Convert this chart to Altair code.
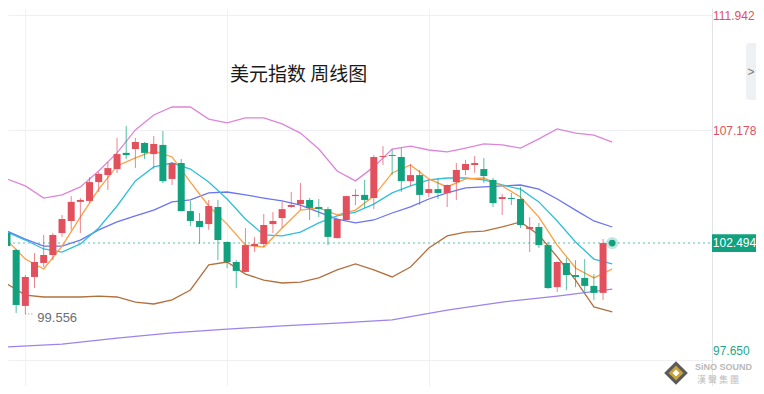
import altair as alt
import pandas as pd

# ---------------- data ----------------
title_text = "美元指数 周线图"

opens = [102.91, 102.21, 99.89, 101.09, 101.67, 102.00, 102.91, 103.41, 104.20, 104.24,
         105.02, 105.31, 105.56, 106.23, 106.39, 106.64, 106.18, 106.56, 105.15, 105.81,
         103.82, 103.41, 103.28, 103.99, 102.54, 101.71, 101.30, 102.37, 102.46, 103.28,
         103.53, 103.99, 104.11, 104.28, 103.99, 103.90, 102.70, 103.45, 104.44, 104.49,
         104.36, 106.06, 106.14, 106.06, 105.06, 105.31, 104.57, 104.73, 104.57, 105.02,
         105.52, 105.73, 105.56, 105.11, 104.32, 104.36, 104.32, 103.08, 103.16, 102.41,
         100.67, 101.67, 101.17, 101.05, 100.72, 100.43]
highs = [103.57, 102.25, 101.17, 102.08, 102.83, 102.91, 103.66, 104.44, 104.36, 105.23,
         105.44, 105.85, 106.85, 107.34, 106.85, 106.68, 106.93, 107.14, 105.85, 105.98,
         104.24, 103.74, 104.28, 104.28, 102.56, 101.79, 103.12, 102.75, 103.70, 103.78,
         104.20, 104.61, 104.98, 104.36, 104.32, 103.99, 103.52, 104.46, 104.73, 105.11,
         106.14, 106.51, 106.39, 106.43, 105.77, 105.52, 105.11, 105.19, 104.92, 105.81,
         105.94, 106.10, 106.02, 105.19, 104.53, 104.57, 104.82, 103.57, 103.33, 102.54,
         101.73, 101.88, 101.79, 101.83, 101.21, 102.66]
lows = [102.29, 99.60, 99.556, 100.63, 101.50, 101.79, 102.75, 103.04, 102.91, 104.15,
        104.61, 104.69, 105.40, 105.98, 105.60, 105.98, 105.56, 104.98, 104.90, 103.80,
        103.20, 102.46, 103.04, 101.79, 101.46, 100.63, 101.28, 102.12, 102.33, 102.91,
        103.12, 103.95, 103.86, 103.45, 103.57, 102.41, 102.68, 103.43, 104.07, 103.95,
        103.90, 105.73, 105.31, 104.61, 104.86, 104.07, 104.40, 104.32, 103.99, 104.28,
        105.31, 105.40, 104.98, 103.99, 103.66, 104.07, 103.12, 102.12, 102.29, 100.60,
        100.47, 100.55, 100.67, 100.43, 100.14, 100.14]
closes = [102.37, 99.93, 101.09, 101.71, 102.00, 102.83, 103.49, 104.20, 104.28, 105.02,
          105.36, 105.60, 106.18, 106.14, 106.68, 106.23, 106.60, 105.06, 105.81, 103.82,
          103.41, 103.16, 104.03, 102.62, 101.71, 101.34, 102.41, 102.46, 103.24, 103.41,
          103.90, 104.07, 104.28, 103.95, 103.90, 102.75, 103.49, 104.44, 104.49, 104.28,
          106.06, 106.10, 106.10, 105.06, 105.31, 104.49, 104.73, 104.57, 104.90, 105.52,
          105.77, 105.81, 105.27, 104.15, 104.40, 104.32, 103.24, 103.16, 102.41, 100.63,
          101.71, 101.17, 101.09, 100.72, 100.43, 102.494]
weeks = list(range(len(opens)))

line_weeks = list(range(0, 67, 2))
ma_fast = [102.62, 101.83, 101.42, 102.37, 103.57, 104.73, 105.69, 106.02, 106.31, 106.06,
           105.02, 104.03, 103.28, 102.41, 102.33, 103.12, 103.86, 103.95, 103.66, 103.86,
           104.44, 105.40, 105.73, 105.15, 104.82, 105.15, 105.19, 104.86, 104.40, 103.57,
           102.41, 101.46, 101.05, 101.42]
ma_mid = [102.95, 102.62, 102.25, 102.12, 102.46, 103.12, 104.03, 105.07, 105.65, 105.81,
          105.56, 105.02, 104.32, 103.49, 102.83, 102.79, 102.95, 103.33, 103.62, 103.78,
          104.11, 104.57, 104.86, 105.11, 105.19, 105.19, 105.11, 104.90, 104.73, 104.20,
          103.41, 102.54, 101.83, 101.63]
ma_slow = [102.99, 102.66, 102.37, 102.37, 102.62, 103.04, 103.37, 103.62, 103.86, 104.20,
           104.28, 104.57, 104.61, 104.49, 104.36, 104.24, 104.07, 103.78, 103.49, 103.33,
           103.45, 103.74, 103.99, 104.32, 104.57, 104.78, 104.82, 104.86, 104.90, 104.73,
           104.32, 103.86, 103.41, 103.16]
band_up = [105.15, 104.86, 104.36, 104.49, 104.82, 105.48, 106.23, 107.18, 107.80, 108.13,
           108.13, 107.63, 107.47, 107.68, 107.68, 107.43, 107.05, 106.39, 105.48, 105.07,
           105.65, 106.39, 106.51, 106.35, 106.27, 106.43, 106.60, 106.56, 106.43, 106.81,
           107.22, 107.05, 106.97, 106.68]
band_low = [100.80, 100.34, 100.26, 100.26, 100.26, 100.30, 100.26, 100.05, 99.97, 100.14,
            100.55, 101.59, 101.71, 101.21, 100.96, 100.84, 100.88, 101.05, 101.38, 101.63,
            101.38, 101.09, 101.50, 102.29, 102.79, 102.95, 102.99, 103.16, 103.37, 102.83,
            101.92, 100.96, 99.85, 99.64]
long_weeks = [0, 6, 12, 18, 24, 30, 36, 42, 48, 54, 60, 66]
ma_long = [98.19, 98.31, 98.56, 98.77, 98.93, 99.06, 99.18, 99.31, 99.72, 100.05, 100.30, 100.59]

axis_ticks = [111.942, 107.178, 97.650]
last_price = 102.494
last_week = 66
low_mark = 99.556
low_week = 2
grid_weeks = [2, 24, 46]

# ---------------- tables ----------------
cdf = pd.DataFrame({"week": weeks, "open": opens, "high": highs, "low": lows, "close": closes})

series = [
    ("band_up", line_weeks, band_up),
    ("band_low", line_weeks, band_low),
    ("ma_slow", line_weeks, ma_slow),
    ("ma_mid", line_weeks, ma_mid),
    ("ma_fast", line_weeks, ma_fast),
    ("ma_long", long_weeks, ma_long),
]
rows = []
for name, ws, vs in series:
    for w, v in zip(ws, vs):
        rows.append({"series": name, "week": w, "value": v})
ldf = pd.DataFrame(rows)

tick_df = pd.DataFrame({"v": axis_ticks})
last_df = pd.DataFrame({"week": [last_week], "v": [last_price]})
low_df = pd.DataFrame({"week": [low_week], "v": [low_mark]})
one = pd.DataFrame({"t": [title_text]})

# ---------------- styling ----------------
RED = "#e2505d"
GREEN = "#11a17f"
W, H = 704, 378
PR = 44  # right padding: total svg width 748 fits the page body

xs = alt.Scale(domain=[0.109, 76.88], nice=False, zero=False, padding=0)
ys = alt.Scale(domain=[96.573, 112.232], nice=False, zero=False, padding=0)
x_axis = alt.Axis(values=grid_weeks, grid=True, gridColor="#f0f1f4", labels=False,
                  ticks=False, domain=False, title=None)
y_axis = alt.Axis(orient="right", values=axis_ticks, grid=True, gridColor="#eeeff2",
                  labels=False, ticks=False, domain=True, domainColor="#e3e4e8", title=None)


def X(field):
    return alt.X(f"{field}:Q", scale=xs, axis=x_axis)


def Y(field):
    return alt.Y(f"{field}:Q", scale=ys, axis=y_axis)


up = "datum.close >= datum.open"

wicks = alt.Chart(cdf).mark_rule(strokeWidth=1, opacity=0.7, clip=True).encode(
    x=X("week"), y=Y("low"), y2="high",
    color=alt.condition(up, alt.value(RED), alt.value(GREEN)),
)
bodies = alt.Chart(cdf).mark_bar(size=7, clip=True).encode(
    x=X("week"), y=Y("open"), y2="close",
    color=alt.condition(up, alt.value(RED), alt.value(GREEN)),
)

lines = alt.Chart(ldf).mark_line(strokeWidth=1.3, clip=True).encode(
    x=X("week"), y=Y("value"),
    color=alt.Color("series:N", legend=None, scale=alt.Scale(
        domain=["band_up", "band_low", "ma_slow", "ma_mid", "ma_fast", "ma_long"],
        range=["#dd85d8", "#b3703f", "#6b74f2", "#2fbfde", "#ff9e40", "#9e82ee"])),
    detail="series:N",
)

price_line = alt.Chart(last_df).mark_rule(strokeDash=[2, 3], strokeWidth=1.5, color="#8fd7c6").encode(
    y=Y("v"), x=alt.value(0), x2=alt.value(W)
)
halo = alt.Chart(last_df).mark_circle(size=150, color=GREEN, opacity=0.25).encode(x=X("week"), y=Y("v"))
dot = alt.Chart(last_df).mark_circle(size=45, color=GREEN, opacity=1).encode(x=X("week"), y=Y("v"))

price_box = alt.Chart(last_df).transform_calculate(
    top="datum.v + 0.37", bot="datum.v - 0.37"
).mark_rect(color=GREEN).encode(
    x=alt.value(W), x2=alt.value(W + PR), y=alt.Y("top:Q", scale=ys, axis=y_axis), y2="bot:Q"
)
price_text = alt.Chart(last_df).mark_text(color="white", fontSize=12, font="Arial",
                                          align="center", baseline="middle").encode(
    x=alt.value(W + PR / 2 + 0.5), y=Y("v"), text=alt.Text("v:Q", format=".3f")
)

tick_color = alt.condition("datum.v > 100", alt.value("#e0505e"), alt.value("#22a886"))
tick_top = alt.Chart(tick_df).transform_filter("datum.v > 100").mark_text(
    align="left", baseline="middle", fontSize=12, font="Arial", dy=1
).encode(x=alt.value(W + 1), y=Y("v"), text=alt.Text("v:Q", format=".3f"), color=tick_color)
tick_bottom = alt.Chart(tick_df).transform_filter("datum.v < 100").mark_text(
    align="left", baseline="bottom", fontSize=12, font="Arial", dy=-2
).encode(x=alt.value(W + 1), y=Y("v"), text=alt.Text("v:Q", format=".3f"), color=tick_color)

low_lead = alt.Chart(low_df).transform_calculate(w2="datum.week + 0.95").mark_rule(
    strokeDash=[1, 2], color="#8a8d93", strokeWidth=1
).encode(x=alt.X("week:Q", scale=xs, axis=x_axis), x2="w2:Q", y=Y("v"))
low_text = alt.Chart(low_df).mark_text(align="left", baseline="middle", fontSize=13,
                                       font="Arial", color="#6b6e75", dx=12, dy=4).encode(
    x=X("week"), y=Y("v"), text=alt.Text("v:Q", format=".3f")
)

title = alt.Chart(one).mark_text(align="left", baseline="middle", fontSize=19,
                                 font="Noto Sans CJK SC", color="#1a1a1a").encode(
    x=alt.value(222), y=alt.value(67), text="t:N"
)

tab = alt.Chart(one).mark_rect(color="#eef0f3", cornerRadius=3).encode(
    x=alt.value(W + 34), x2=alt.value(W + PR + 6), y=alt.value(35), y2=alt.value(92)
)
tab_text = alt.Chart(one).mark_text(text=">", fontSize=12, font="Arial", color="#777a80",
                                    align="center", baseline="middle").encode(
    x=alt.value(W + 39), y=alt.value(64)
)

logo_outer = alt.Chart(one).mark_point(shape="diamond", filled=True, size=560, color="#5a5a5a", opacity=1).encode(
    x=alt.value(668), y=alt.value(365))
logo_mid = alt.Chart(one).mark_point(shape="diamond", filled=True, size=220, color="#c8a23a", opacity=1).encode(
    x=alt.value(668), y=alt.value(365))
logo_in = alt.Chart(one).mark_point(shape="diamond", filled=True, size=50, color="#ffffff", opacity=1).encode(
    x=alt.value(668), y=alt.value(365))
logo_t1 = alt.Chart(one).mark_text(text="SiNO SOUND", fontSize=9, fontWeight="bold", font="Arial",
                                   color="#b9b9b9", align="left", baseline="middle").encode(
    x=alt.value(687), y=alt.value(359))
logo_t2 = alt.Chart(one).mark_text(text="漢 聲 集 團", fontSize=9, font="Noto Sans CJK TC",
                                   color="#bdbdbd", align="left", baseline="middle").encode(
    x=alt.value(689), y=alt.value(372))

chart = alt.layer(
    price_line, lines, wicks, bodies, halo, dot,
    low_lead, low_text, title,
    price_box, price_text, tick_top, tick_bottom,
    tab, tab_text, logo_outer, logo_mid, logo_in, logo_t1, logo_t2,
).properties(
    width=W, height=H,
    autosize=alt.AutoSizeParams(type="none"),
    padding={"left": 0, "top": 0, "right": PR, "bottom": 0},
).configure_view(strokeWidth=0)

chart.save("out.html", embed_options={"renderer": "svg", "actions": False})
